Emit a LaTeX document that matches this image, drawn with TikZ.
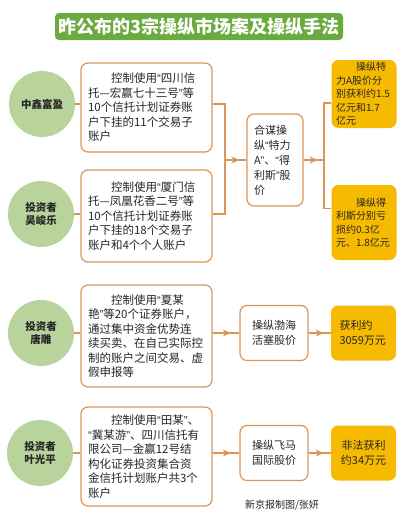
\documentclass[tikz,border=0pt]{standalone}
\usepackage{fontspec}
\setmainfont{Noto Sans CJK SC}
\newfontfamily\quotefont{Liberation Sans}
\usepackage{tikz}
\usetikzlibrary{arrows.meta, positioning, calc, decorations.markings}
\usepackage{xcolor}

\definecolor{titlegreen}{RGB}{106,170,62}
\definecolor{namegreen}{RGB}{184,212,156}
\definecolor{linetan}{RGB}{218,150,90}
\definecolor{gaingold}{RGB}{246,186,0}
\definecolor{inkgray}{RGB}{38,38,38}

% narrow quote marks, as in the print
\newcommand{\qopen}{{\quotefont “}}
\newcommand{\qclose}{{\quotefont ”}}

\begin{document}
\begin{tikzpicture}[
    x=1pt, y=-1pt,
    titlebox/.style = {rectangle, fill=titlegreen, rounded corners=4pt, text=white, font=\bfseries\fontsize{18}{20}\selectfont, minimum width=288pt, minimum height=27pt, inner sep=0pt},
    namedot/.style = {circle, fill=namegreen, text=inkgray, minimum size=66pt, inner sep=0pt, align=center, font=\bfseries\fontsize{10.5}{13}\selectfont},
    methodbox/.style = {rectangle, draw=linetan, fill=white, line width=1.2pt, rounded corners=7pt, text=inkgray, align=left, minimum width=131pt, text width=117pt, inner sep=0pt, font=\fontsize{11.5}{14.5}\selectfont},
    midbox/.style = {rectangle, draw=linetan, fill=white, line width=1.2pt, rounded corners=7pt, text=inkgray, align=center, minimum width=68pt, minimum height=55pt, inner sep=0pt, font=\fontsize{11}{15}\selectfont},
    gainbox/.style = {rectangle, fill=gaingold, rounded corners=7pt, text=inkgray, minimum width=65pt, inner sep=0pt, font=\fontsize{10}{13.5}\selectfont},
    conn/.style = {draw=linetan, line width=1.3pt},
    midarrow/.style = {conn, postaction={decorate}, decoration={markings, mark=at position 0.68 with {\arrow[linetan]{Stealth[length=8pt, width=7pt, inset=2.5pt]}}}}
]
\useasboundingbox (0,0) rectangle (400,514);

% Nodes
\node (title) [titlebox] at (199,26.5) {昨公布的3宗操纵市场案及操纵手法};

\node (c1) [namedot] at (42,104) {中鑫富盈};
\node (c2) [namedot] at (41,214) {投资者\\吴峻乐};
\node (c3) [namedot] at (41,333) {投资者\\唐雕};
\node (c4) [namedot] at (40,453) {投资者\\叶光平};

\node (b1) [methodbox, minimum height=89pt] at (146.5,107.5) {\hspace*{2em}控制使用\qopen 四川信\\托—宏赢七十三号\qclose 等\\10个信托计划证券账\\户下挂的11个交易子\\账户};
\node (b2) [methodbox, minimum height=92pt] at (146.5,216) {\hspace*{2em}控制使用\qopen 厦门信\\托—凤凰花香二号\qclose 等\\10个信托计划证券账\\户下挂的18个交易子\\账户和4个个人账户};
\node (b3) [methodbox, minimum height=102pt] at (146.5,336) {\hspace*{2em}控制使用\qopen 夏某\\艳\qclose 等20个证券账户，\\通过集中资金优势连\\续买卖、在自己实际控\\制的账户之间交易、虚\\假申报等};
\node (b4) [methodbox, minimum height=99pt] at (146.5,456.5) {\hspace*{2em}控制使用\qopen 田某\qclose 、\\\qopen 冀某游\qclose 、四川信托有\\限公司—金赢12号结\\构化证券投资集合资\\金信托计划账户共3个\\账户};

\node (m1) [midbox, minimum width=56pt, minimum height=92pt, align=left, text width=42pt] at (275,160) {合谋操\\纵\qopen 特力\\A\qclose 、\qopen 得\\利斯\qclose 股\\价};
\node (m3) [midbox] at (274,333) {操纵渤海\\活塞股价};
\node (m4) [midbox] at (274,453) {操纵飞马\\国际股价};

\node (r1) [gainbox, minimum height=68pt, align=left, text width=56pt] at (364,94) {\hspace*{2em}操纵特\\力A股价分\\别获利约1.5\\亿元和1.7\\亿元};
\node (r2) [gainbox, minimum height=75pt, align=left, text width=56pt] at (364,222.5) {\hspace*{2em}操纵得\\利斯分别亏\\损约0.3亿\\元、1.8亿元};
\node (r3) [gainbox, minimum height=55pt, align=left, text width=48pt, font=\fontsize{11}{15}\selectfont] at (363.5,333) {获利约\\3059万元};
\node (r4) [gainbox, minimum height=55pt, align=center, font=\fontsize{11}{15}\selectfont] at (363.5,453) {非法获利\\约34万元};

\node (credit) [text=inkgray, font=\fontsize{10}{12}\selectfont] at (282,505) {新京报制图/张妍};

% Connections
\coordinate (j1) at (225,160);
\coordinate (j2) at (324,160);
\draw [conn] (c1) -- (c1 -| b1.west);
\draw [conn] (c2) -- (c2 -| b2.west);
\draw [conn] (c1 -| b1.east) -| (j1) |- (c2 -| b2.east);
\draw [midarrow] (j1) -- (m1);
\draw [midarrow] (m1) -- (j2);
\draw [conn] ($(r1.west)+(0,9)$) -| (j2) |- ($(r2.west)+(0,-14)$);

\draw [conn] (c3) -- (c3 -| b3.west);
\draw [midarrow] (c3 -| b3.east) -- (m3);
\draw [midarrow] (m3) -- (r3);

\draw [conn] (c4) -- (c4 -| b4.west);
\draw [midarrow] (c4 -| b4.east) -- (m4);
\draw [midarrow] (m4) -- (r4);

\end{tikzpicture}
\end{document}
